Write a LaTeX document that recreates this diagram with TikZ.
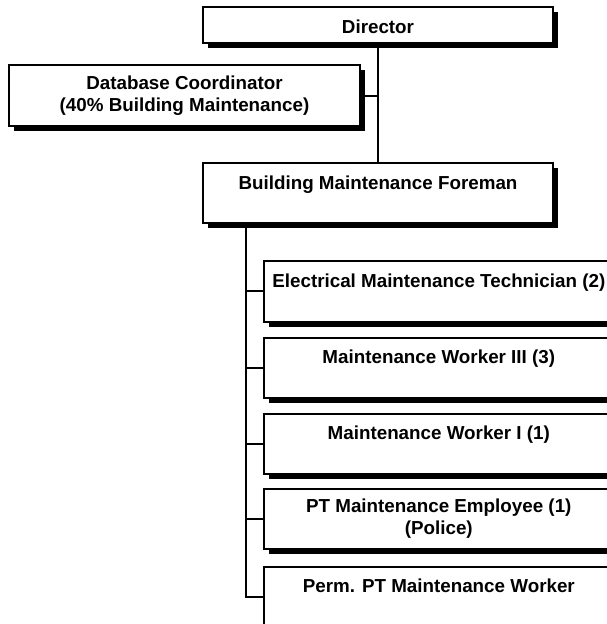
\documentclass[tikz,border=0pt]{standalone}
\usepackage{fontspec}
\setmainfont{Liberation Sans}
\usetikzlibrary{shadows}
\begin{document}
\begin{tikzpicture}[x=1pt,y=-1pt,
  box/.style={draw=black, line width=1.6pt, fill=white, inner sep=0pt, align=center,
    font=\bfseries\fontsize{18.8}{22.5}\selectfont,
    drop shadow={shadow xshift=5pt, shadow yshift=-5pt, fill=black, opacity=1}},
  wide/.style={box, minimum width=350pt},
  topline/.style={text height=26pt, text depth=#1},
  conn/.style={line width=2pt}]
\useasboundingbox (0,0) rectangle (607,624);
\clip (0,0) rectangle (607,624);
\node[wide, minimum height=36pt, text height=16pt, text depth=0pt] (dir) at (378,25) {Director};
\node[box, minimum width=351pt, minimum height=61pt] (db) at (184.5,95.5) {Database Coordinator\\(40\% Building Maintenance)};
\node[wide, minimum height=60pt, topline=34pt] (fore) at (378,193) {Building Maintenance Foreman};
\node[wide, anchor=north west, minimum height=61pt, text height=27pt, text depth=34pt] (elec) at (263,260) {Electrical Maintenance Technician (2)};
\node[wide, anchor=north west, minimum height=60pt, topline=34pt] (mw3) at (263,337) {Maintenance Worker III (3)};
\node[wide, anchor=north west, minimum height=60pt, topline=34pt] (mw1) at (263,413) {Maintenance Worker I (1)};
\node[wide, anchor=north west, minimum height=60pt] (pt) at (263,488) {PT Maintenance Employee (1)\\(Police)};
\node[wide, anchor=north west, minimum height=60pt, topline=34pt] (perm) at (263,566) {Perm. PT Maintenance Worker};
\draw[conn] (dir.south) -- (fore.north);
\draw[conn] (db.east) -- (db.east -| dir.south);
\coordinate (t) at ([xshift=44pt]fore.south west);
\draw[conn] (t) |- (perm.west);
\foreach \n in {elec,mw3,mw1,pt}{\draw[conn] (t |- \n.west) -- (\n.west);}
\end{tikzpicture}
\end{document}
